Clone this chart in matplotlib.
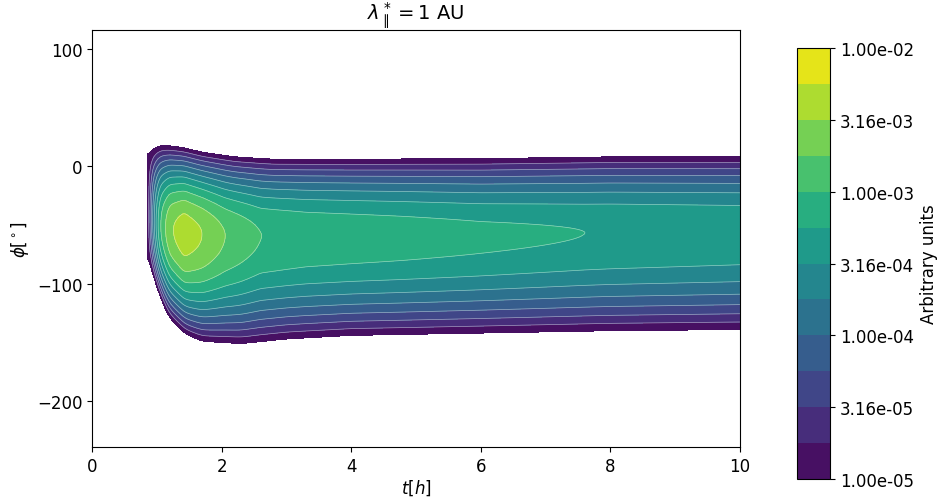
import numpy as np
import matplotlib
matplotlib.use("Agg")
import matplotlib.pyplot as plt
from matplotlib.ticker import FuncFormatter

# values (log10 of intensity, angles in degrees, time in hours)
t_peak = [0.0, 0.84, 0.87, 0.95, 1.05, 1.2, 1.42, 1.7, 2.05, 2.6, 3.3, 4.75, 6.0, 7.6, 10.0]
peak_log = [-7.0, -5.2, -4.8, -3.8, -3.0, -2.55, -2.35, -2.5, -2.75, -3.0, -3.07, -3.13, -3.19, -3.25, -3.30]

t_center = [0.0, 0.84, 1.0, 1.42, 2.05, 3.3, 6.0, 8.0, 10.0]
phi_center = [-40, -40, -50, -57, -59, -59, -59, -56, -55]

t_upper = [0.0, 0.84, 0.95, 1.1, 1.4, 1.7, 2.2, 2.8, 4.0, 6.0, 8.0, 10.0]
phi_upper = [8, 8, 16, 18, 16, 12, 8, 6, 6, 6.5, 8, 8]

t_lower = [0.0, 0.84, 0.97, 1.17, 1.44, 1.7, 2.3, 3.0, 4.0, 6.0, 8.0, 10.0]
phi_lower = [-71, -71, -99, -128, -143, -149, -151, -147, -144, -142, -140, -139]

levels = np.arange(-5.0, -1.99, 0.25)
cbar_ticks = np.arange(-5.0, -1.99, 0.5)

# field on a grid
t = np.linspace(0, 10, 1001)
phi = np.linspace(-240, 116, 713)
T, PHI = np.meshgrid(t, phi)


def smooth(y, n=6):
    k = np.exp(-0.5 * (np.arange(-3 * n, 3 * n + 1) / n) ** 2)
    k /= k.sum()
    yp = np.pad(y, 3 * n, mode="edge")
    return np.convolve(yp, k, mode="valid")


P = smooth(np.interp(t, t_peak, peak_log), 3)
C = smooth(np.interp(t, t_center, phi_center))
U = smooth(np.interp(t, t_upper, phi_upper))
B = smooth(np.interp(t, t_lower, phi_lower))

d = PHI - C
D = np.where(d > 0, U - C, C - B)
L = P - (P + 5) * (d / D) ** 2
L = np.where(P > -5, L, -6.0)

fig = plt.figure(figsize=(9.41, 5.02), dpi=100)
ax = fig.add_axes([0.0978, 0.1076, 0.6886, 0.8306])
cax = fig.add_axes([0.847, 0.0438, 0.0351, 0.8586])

cs = ax.contourf(T, PHI, L, levels=levels, cmap="viridis")
ax.contour(T, PHI, L, levels=levels[1:], colors="white", linewidths=0.5,
           linestyles="solid", alpha=0.5)
ax.set_xlim(0, 10)
ax.set_ylim(-239, 116)
ax.set_yticks([-200, -100, 0, 100])
ax.tick_params(labelsize=12)
ax.set_xlabel(r"$t[h]$", fontsize=12, labelpad=2)
ax.set_ylabel(r"$\phi[^\circ]$", fontsize=12)
ax.set_title(r"$\lambda_\parallel^* = 1$ AU", fontsize=14)

cb = fig.colorbar(cs, cax=cax, ticks=cbar_ticks)
cb.ax.yaxis.set_major_formatter(FuncFormatter(lambda v, pos: f"{10 ** v:.2e}"))
cb.ax.tick_params(labelsize=12)
cb.set_label("Arbitrary units", fontsize=12)

fig.savefig("out.png", dpi=100)
